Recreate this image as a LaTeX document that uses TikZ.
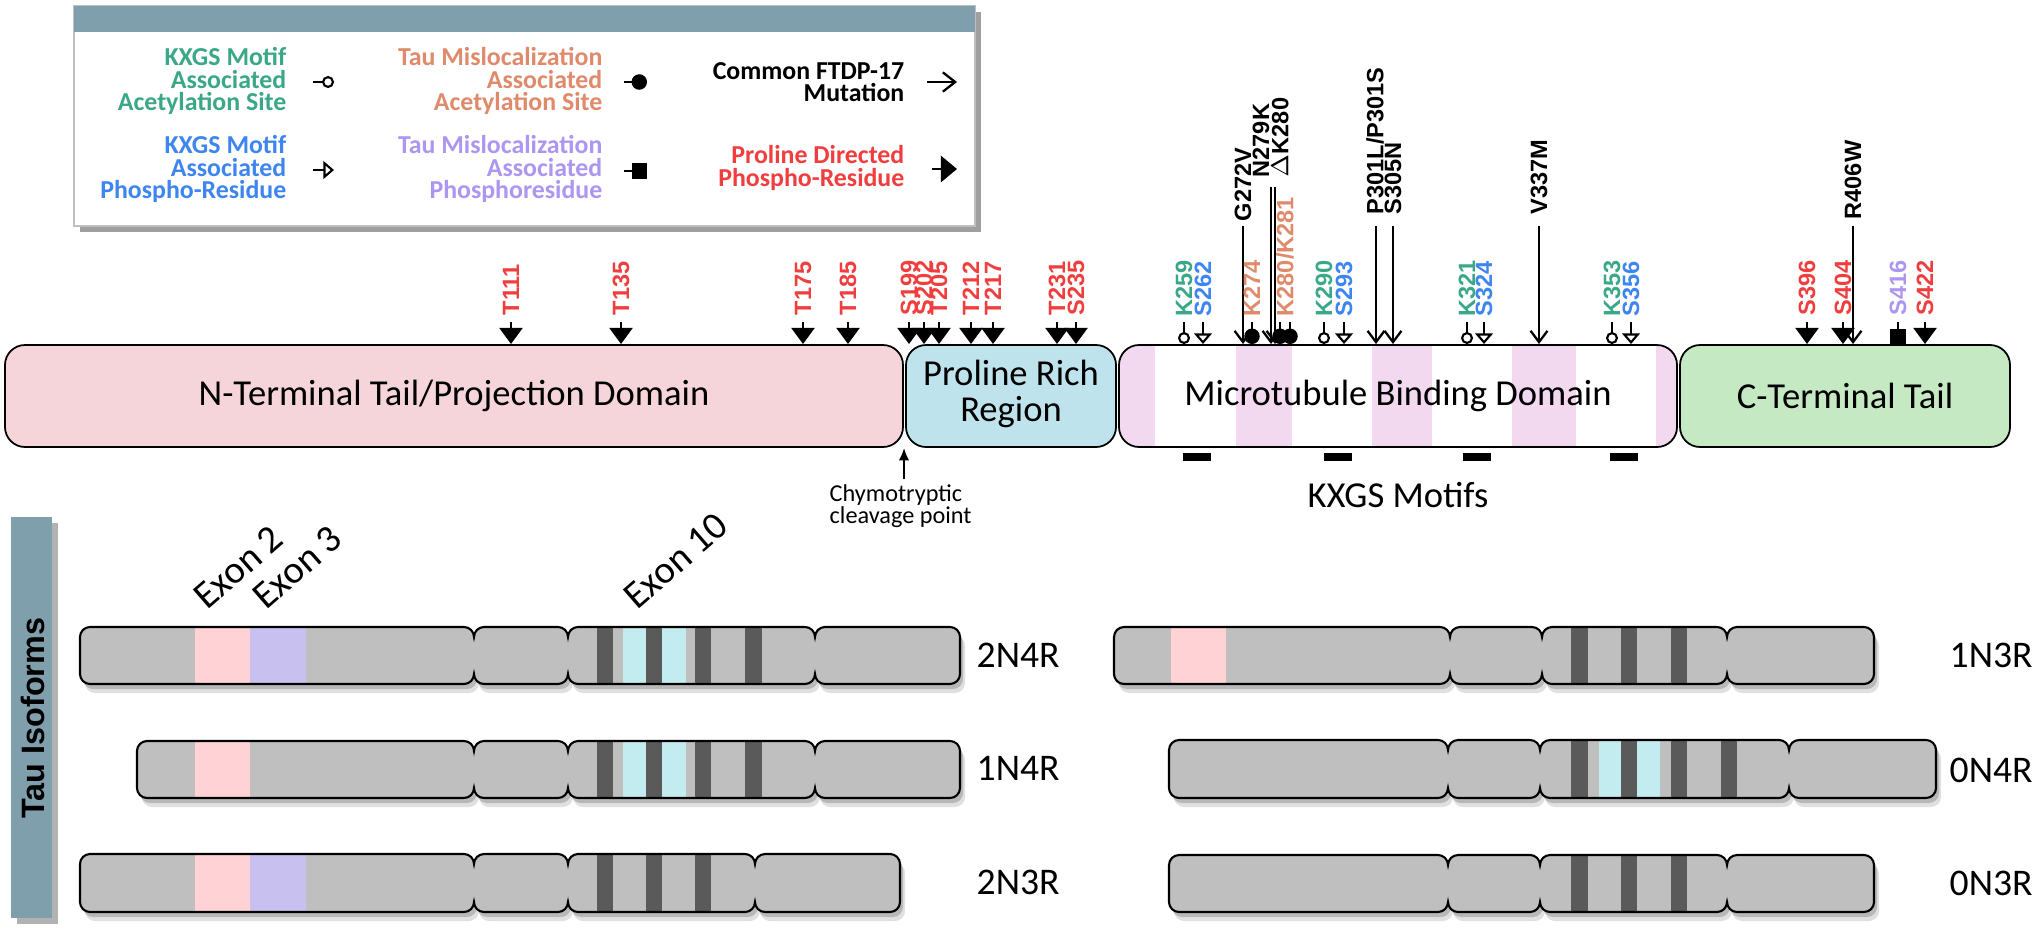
\documentclass[tikz,border=0pt]{standalone}
\usepackage{fontspec}
\setmainfont{Carlito}
\newfontfamily\lab{Liberation Sans}
\usetikzlibrary{arrows.meta}
\definecolor{hdr}{HTML}{7F9FAD}
\definecolor{cteal}{HTML}{3AA888}
\definecolor{csalmon}{HTML}{DF8A6B}
\definecolor{cblue}{HTML}{3D85F0}
\definecolor{clav}{HTML}{AD96F2}
\definecolor{cred}{HTML}{F03E3E}
\definecolor{npink}{HTML}{F5D5D9}
\definecolor{pblue}{HTML}{BEE3EC}
\definecolor{mpink}{HTML}{F2D9EF}
\definecolor{cgreen}{HTML}{C5EAC3}
\definecolor{isogray}{HTML}{BFBFBF}
\definecolor{isodark}{HTML}{5A5A5A}
\definecolor{exa}{HTML}{FFD2D5}
\definecolor{exb}{HTML}{C8C0EE}
\definecolor{exc}{HTML}{C2ECEF}
\newcommand\isopath[7]{%
({#1},{#6+10}) .. controls ({#1},{#6+4.5}) and ({#1+4.5},{#6}) .. ({#1+10},{#6})
-- ({#2-10},{#6}) .. controls ({#2-4.5},{#6}) and ({#2},{#6+4.5}) .. ({#2},{#6+10})
 .. controls ({#2},{#6+4.5}) and ({#2+4.5},{#6}) .. ({#2+10},{#6})
-- ({#3-10},{#6}) .. controls ({#3-4.5},{#6}) and ({#3},{#6+4.5}) .. ({#3},{#6+10})
 .. controls ({#3},{#6+4.5}) and ({#3+4.5},{#6}) .. ({#3+10},{#6})
-- ({#4-10},{#6}) .. controls ({#4-4.5},{#6}) and ({#4},{#6+4.5}) .. ({#4},{#6+10})
 .. controls ({#4},{#6+4.5}) and ({#4+4.5},{#6}) .. ({#4+10},{#6})
-- ({#5-10},{#6}) .. controls ({#5-4.5},{#6}) and ({#5},{#6+4.5}) .. ({#5},{#6+10})
-- ({#5},{#7-10}) .. controls ({#5},{#7-4.5}) and ({#5-4.5},{#7}) .. ({#5-10},{#7})
-- ({#4+10},{#7}) .. controls ({#4+4.5},{#7}) and ({#4},{#7-4.5}) .. ({#4},{#7-10})
 .. controls ({#4},{#7-4.5}) and ({#4-4.5},{#7}) .. ({#4-10},{#7})
-- ({#3+10},{#7}) .. controls ({#3+4.5},{#7}) and ({#3},{#7-4.5}) .. ({#3},{#7-10})
 .. controls ({#3},{#7-4.5}) and ({#3-4.5},{#7}) .. ({#3-10},{#7})
-- ({#2+10},{#7}) .. controls ({#2+4.5},{#7}) and ({#2},{#7-4.5}) .. ({#2},{#7-10})
 .. controls ({#2},{#7-4.5}) and ({#2-4.5},{#7}) .. ({#2-10},{#7})
-- ({#1+10},{#7}) .. controls ({#1+4.5},{#7}) and ({#1},{#7-4.5}) .. ({#1},{#7-10}) -- cycle}
\newcommand\band[3]{\fill[#1] (#2,500) rectangle (#3,939);}
\newcommand\isoform[8]{%
 \begin{scope}[shift={(5,9)}]
  \fill[black,opacity=0.12] \isopath{#1}{#2}{#3}{#4}{#5}{#6}{#7};
 \end{scope}
 \begin{scope}[shift={(3,5)}]
  \fill[black,opacity=0.18] \isopath{#1}{#2}{#3}{#4}{#5}{#6}{#7};
 \end{scope}
 \begin{scope}
  \clip \isopath{#1}{#2}{#3}{#4}{#5}{#6}{#7};
  \fill[isogray] (#1,#6) rectangle (#5,#7);
  #8
 \end{scope}
 \draw[line width=0.6pt] \isopath{#1}{#2}{#3}{#4}{#5}{#6}{#7};}
\begin{document}
\begin{tikzpicture}[x=0.01cm,y=-0.01cm,
 legtxt/.style={font=\bfseries\fontsize{7.35}{6.4}\selectfont, align=right, anchor=east, inner sep=0pt},
 res/.style={font=\lab\bfseries\fontsize{6.7}{7}\selectfont, rotate=90, anchor=west, inner sep=0pt},
 dom/.style={draw=black, line width=0.5pt, rounded corners=0.2cm},
 domtxt/.style={font=\fontsize{10.4}{10}\selectfont, inner sep=0pt},
 isolab/.style={font=\fontsize{10.7}{11}\selectfont, anchor=west, inner sep=0pt},
 exon/.style={font=\fontsize{11}{12}\selectfont, rotate=41, anchor=base west, inner sep=0pt},
 pd/.style={-{Triangle[length=4.6pt,width=6.6pt]}, line width=0.6pt},
 kac/.style={-{Circle[open,length=3.4pt]}, line width=0.6pt},
 kph/.style={-{Triangle[open,length=3pt,width=5pt]}, line width=0.6pt},
 tac/.style={-{Circle[length=4.4pt]}, line width=0.6pt},
 tph/.style={-{Rectangle[length=4.3pt,width=4.8pt]}, line width=0.6pt},
 mut/.style={-{Straight Barb[length=3.2pt,width=4.8pt]}, line width=0.65pt}]
\useasboundingbox (0,0) rectangle (2040,939);
% ---------- legend ----------
\fill[gray!75] (80,12) rectangle (981,232);
\draw[fill=white, draw=gray!50, line width=0.3pt] (74,6) rectangle (975,226);
\fill[hdr] (74,6) rectangle (975,32);
\node[legtxt, text=cteal] (l1) at (287,81) {KXGS Motif\\Associated\\Acetylation Site};
\node[legtxt, text=csalmon] (l2) at (603,81) {Tau Mislocalization\\Associated\\Acetylation Site};
\node[legtxt] (l3) at (905,82) {Common FTDP-17\\Mutation};
\node[legtxt, text=cblue] (l4) at (287,169) {KXGS Motif\\Associated\\Phospho-Residue};
\node[legtxt, text=clav] (l5) at (603,169) {Tau Mislocalization\\Associated\\Phosphoresidue};
\node[legtxt, text=cred] (l6) at (905,168) {Proline Directed\\Phospho-Residue};
\draw[kac] (313,82) -- (334,82);
\draw[tac] (624,82) -- (647,82);
\draw[-{Straight Barb[length=3.5pt,width=5.5pt]}, line width=0.65pt] (927,82) -- (957,82);
\draw[kph] (313,170) -- (334,170);
\draw[tph] (624,171) -- (647,171);
\draw[-{Triangle[length=4.6pt,width=7.5pt]}, line width=0.6pt] (932,169) -- (957,169);
% ---------- domains ----------
\draw[dom, fill=npink] (5,345) rectangle (903,447);
\node[domtxt] (nt) at (454,396) {N-Terminal Tail/Projection Domain};
\draw[dom, fill=pblue] (906,345) rectangle (1116,447);
\node[domtxt, align=center] (pr) at (1011,394) {Proline Rich\\Region};
\begin{scope}
 \clip[rounded corners=0.2cm] (1119,345) rectangle (1677,447);
 \fill[white] (1119,345) rectangle (1677,447);
 \fill[mpink] (1119,345) rectangle (1155,447);
 \fill[mpink] (1236,345) rectangle (1292,447);
 \fill[mpink] (1372,345) rectangle (1432,447);
 \fill[mpink] (1512,345) rectangle (1576,447);
 \fill[mpink] (1656,345) rectangle (1677,447);
\end{scope}
\draw[dom] (1119,345) rectangle (1677,447);
\node[domtxt] (mt) at (1398,396) {Microtubule Binding Domain};
\draw[dom, fill=cgreen] (1680,345) rectangle (2010,447);
\node[domtxt] (ct) at (1845,396) {C-Terminal Tail};
% KXGS motifs
\foreach \a in {1183,1324,1463,1610} \fill (\a,453) rectangle (\a+28,461);
\node[domtxt] (kx) at (1398,495) {KXGS Motifs};
% cleavage
\coordinate (cl) at (904,479);
\draw[-{Latex[length=3.5pt,width=3pt]}, line width=0.6pt] (cl) -- (904,448);
\node[anchor=north west, align=left, font=\fontsize{6.9}{6.3}\selectfont, inner sep=0pt] (chy) at (829,484) {Chymotryptic\\cleavage point};
% ---------- proline directed sites ----------
\foreach \x/\t in {511/T111,621/T135,803/T175,848/T185,909/S199,924/S202,939/T205,971/T212,993/T217,1057/T231,1076/S235,1807/S396,1843/S404,1925/S422}{
 \node[res, text=cred] at (\x,316) {\t};
 \draw[pd] (\x,322) -- (\x,344);
}
% ---------- mutations ----------
\foreach \x/\y/\lx/\ly/\t in {1243/226/1243/222/{G272V},1271/187/1261/178/{N279K},1275/187/1280/178/{$\Delta$K280},1376/226/1375/215/{P301L/P301S},1393/226/1393/215/{S305N},1539/226/1539/215/{V337M},1853/226/1853/220/{R406W}}{
 \node[res] at (\lx,\ly) {\t};
 \draw[mut] (\x,\y) -- (\x,344);
}
% ---------- MTBD sites ----------
\foreach \x/\t in {1184/K259,1324/K290,1467/K321,1612/K353}{
 \node[res, text=cteal] at (\x,317) {\t};
 \draw[kac] (\x,322) -- (\x,344);
}
\foreach \x/\t in {1203/S262,1344/S293,1484/S324,1631/S356}{
 \node[res, text=cblue] at (\x,317) {\t};
 \draw[kph] (\x,322) -- (\x,344);
}
\node[res, text=csalmon] (k274) at (1252,317) {K274};
\node[res, text=csalmon] (k280) at (1285,317) {K280/K281};
\draw[tac] (1252,322) -- (1252,344);
\draw[tac] (1280,322) -- (1280,344);
\draw[tac] (1290,322) -- (1290,344);
\node[res, text=clav] (s416) at (1898,316) {S416};
\draw[tph] (1898,322) -- (1898,344);
% ---------- isoforms ----------
\fill[gray!60] (17,523) rectangle (58,924);
\fill[hdr] (11,517) rectangle (52,918);
\node[rotate=90, font=\lab\bfseries\fontsize{9.2}{10}\selectfont, inner sep=0pt] (tiso) at (33,718) {Tau Isoforms};
\isoform{80}{474}{568}{815}{960}{627}{684}{\band{exa}{195}{250}\band{exb}{250}{306}\band{exc}{623}{646}\band{exc}{662}{686}\band{isodark}{597}{613}\band{isodark}{646}{662}\band{isodark}{695}{711}\band{isodark}{745}{762}}
\isoform{137}{474}{568}{815}{960}{741}{798}{\band{exa}{195}{250}\band{exc}{623}{646}\band{exc}{662}{686}\band{isodark}{597}{613}\band{isodark}{646}{662}\band{isodark}{695}{711}\band{isodark}{745}{762}}
\isoform{80}{474}{568}{755}{900}{854}{912}{\band{exa}{195}{250}\band{exb}{250}{306}\band{isodark}{597}{613}\band{isodark}{646}{662}\band{isodark}{695}{711}}
\isoform{1114}{1450}{1542}{1727}{1874}{627}{684}{\band{exa}{1171}{1226}\band{isodark}{1571}{1588}\band{isodark}{1621}{1637}\band{isodark}{1671}{1687}}
\isoform{1169}{1448}{1540}{1789}{1936}{740}{798}{\band{exc}{1599}{1621}\band{exc}{1637}{1660}\band{isodark}{1571}{1588}\band{isodark}{1621}{1637}\band{isodark}{1671}{1687}\band{isodark}{1721}{1737}}
\isoform{1169}{1448}{1540}{1727}{1874}{855}{912}{\band{isodark}{1571}{1588}\band{isodark}{1621}{1637}\band{isodark}{1671}{1687}}
\node[isolab] (i1) at (976,655) {2N4R};
\node[isolab] (i2) at (976,768) {1N4R};
\node[isolab] (i3) at (976,882) {2N3R};
\node[isolab] (i4) at (1949,655) {1N3R};
\node[isolab] (i5) at (1949,770) {0N4R};
\node[isolab] (i6) at (1949,883) {0N3R};
\node[exon] (e2) at (207,611) {Exon 2};
\node[exon] (e3) at (266,611) {Exon 3};
\node[exon] (e10) at (637,611) {Exon 10};
\end{tikzpicture}
\end{document}
